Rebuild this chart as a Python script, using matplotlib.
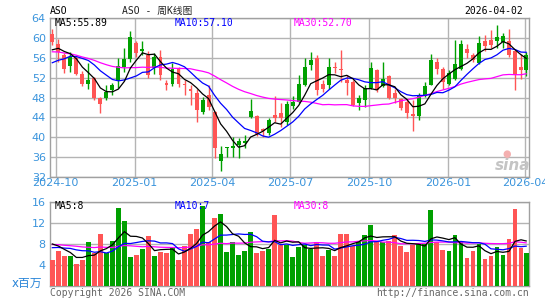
import numpy as np
import pandas as pd
import matplotlib
matplotlib.use('Agg')
import matplotlib.pyplot as plt

# weekly bars, ASO, last bar is Thursday 2026-04-02
last_day = '2026-04-02'
weeks = list(pd.date_range('2024-09-27', '2026-03-27', freq='W-FRI')) + [pd.Timestamp(last_day)]

opens = [60.8, 58.8, 56.6, 54.4, 56.0, 52.8, 50.7, 51.9, 47.9, 47.9,
         49.5, 51.5, 54.2, 55.8, 59.0, 57.3, 56.5, 54.0, 56.1, 50.9,
         50.8, 53.8, 50.8, 49.7, 49.0, 45.0, 48.5, 45.1, 35.3, 37.8,
         37.8, 38.5, 38.9, 44.1, 44.3, 41.6, 40.8, 44.5, 44.8, 43.0,
         46.3, 47.0, 50.6, 54.5, 55.9, 50.8, 50.5, 54.1, 53.8, 51.5,
         51.1, 46.8, 47.5, 49.9, 53.5, 50.3, 52.3, 49.0, 47.6, 47.0,
         44.6, 44.3, 48.3, 50.5, 55.1, 53.8, 50.7, 51.8, 53.8, 57.7,
         56.6, 54.9, 59.3, 59.5, 59.3, 59.1, 59.3, 57.3, 54.1, 53.5]
highs = [61.7, 59.8, 57.0, 57.1, 56.4, 53.3, 55.0, 52.1, 48.1, 50.6,
         50.9, 55.9, 58.0, 61.3, 59.3, 59.3, 57.3, 57.0, 57.5, 51.5,
         54.9, 54.1, 51.5, 50.5, 49.7, 48.1, 50.6, 45.3, 38.3, 38.0,
         40.0, 39.9, 40.5, 47.7, 44.5, 41.8, 43.9, 48.3, 46.8, 47.3,
         48.4, 52.5, 55.9, 57.1, 56.5, 51.5, 55.9, 55.1, 57.5, 52.5,
         51.5, 48.5, 50.5, 55.1, 53.8, 55.1, 52.5, 49.8, 47.9, 47.5,
         47.5, 48.9, 51.2, 56.8, 55.9, 54.1, 53.5, 59.5, 59.5, 58.8,
         57.0, 60.3, 60.5, 61.5, 62.5, 61.0, 61.7, 57.5, 56.8, 57.1]
lows = [58.6, 55.1, 53.0, 53.1, 52.6, 50.3, 49.8, 47.5, 44.8, 47.5,
        48.6, 50.0, 53.2, 55.1, 56.1, 56.5, 52.0, 52.8, 51.5, 49.5,
        50.3, 50.1, 48.5, 46.5, 43.1, 44.7, 45.5, 35.8, 33.3, 36.1,
        36.1, 35.9, 37.9, 43.8, 40.3, 40.1, 40.5, 43.1, 42.1, 42.5,
        45.6, 46.8, 50.3, 53.6, 48.5, 49.1, 49.7, 53.0, 51.1, 48.5,
        46.3, 45.5, 46.0, 49.7, 49.1, 50.1, 47.7, 46.8, 45.5, 43.8,
        41.3, 43.5, 48.1, 50.5, 52.8, 49.7, 50.5, 51.5, 53.5, 55.9,
        55.1, 54.8, 57.3, 57.9, 57.9, 57.9, 56.1, 49.5, 51.7, 52.3]
closes = [59.1, 57.1, 53.8, 56.2, 52.8, 50.7, 51.5, 47.9, 46.7, 49.1,
          50.5, 54.3, 55.7, 60.1, 57.0, 57.8, 52.5, 56.2, 52.5, 50.6,
          53.8, 50.8, 50.5, 49.3, 45.5, 47.5, 46.1, 37.8, 36.6, 38.0,
          38.3, 39.3, 39.3, 45.3, 40.7, 41.3, 43.5, 43.8, 43.9, 46.6,
          47.0, 50.7, 54.1, 55.5, 49.5, 49.8, 54.1, 53.9, 53.6, 50.9,
          46.5, 47.8, 49.9, 53.9, 49.5, 51.7, 47.8, 47.9, 45.9, 44.8,
          44.3, 48.3, 50.3, 55.5, 53.7, 51.1, 53.0, 54.7, 58.7, 56.9,
          55.6, 59.0, 58.3, 58.6, 60.1, 60.3, 56.6, 52.5, 53.5, 56.5]
volumes = [4.9, 6.6, 5.8, 5.8, 4.1, 4.9, 8.3, 6.3, 9.9, 6.2,
           8.5, 14.9, 12.3, 5.5, 6.0, 7.0, 9.5, 5.7, 6.4, 6.3,
           7.2, 4.9, 7.6, 9.9, 10.8, 15.2, 8.3, 12.9, 13.8, 6.4,
           8.3, 6.0, 6.6, 10.2, 6.2, 6.6, 7.0, 13.5, 7.8, 7.9,
           5.5, 7.4, 7.9, 7.1, 8.3, 5.7, 6.8, 5.8, 10.0, 10.0,
           7.7, 8.5, 9.7, 11.7, 8.6, 8.3, 8.6, 9.7, 7.6, 6.5,
           7.9, 8.0, 8.0, 14.5, 8.3, 6.8, 6.6, 9.8, 8.5, 5.3,
           6.7, 8.0, 5.1, 5.7, 7.4, 5.9, 8.9, 14.6, 7.2, 6.3]

# weeks before the window, only needed so the moving averages start where they do
prior_closes = [58.5, 59.8, 61.2, 61.0, 61.5, 60.4, 59.6, 60.8, 61.2, 60.7,
                59.4, 59.3, 58.9, 56.5, 55.2, 54.1, 53.6, 54.4, 55.3, 54.6,
                52.2, 50.8, 51.0, 53.5, 54.5, 55.6, 57.0, 58.4, 57.9]
prior_volumes = [7.5, 9.1, 8.4, 7.2, 8.8, 10.3, 7.9, 6.8, 8.1, 9.4,
                 7.6, 8.3, 7.1, 8.9, 9.6, 7.4, 8.0, 8.6, 7.3, 7.7,
                 6.2, 7.0, 6.4, 6.9, 6.5, 8.5, 9.0, 8.8, 8.8]

month_ticks = ['2024-10', '2025-01', '2025-04', '2025-07', '2025-10', '2026-01', '2026-04']
price_ticks = [32, 36, 40, 44, 48, 52, 56, 60, 64]
vol_ticks = [4, 8, 12, 16]

RED = '#ff5555'
GREEN = '#00a000'
BLUE_TXT = '#3a94dc'
GRID = '#b4b4b4'
FRAME = '#a0a0a0'
MONO = ['DejaVu Sans Mono', 'Noto Sans CJK SC']

W, H = 545, 300
fig = plt.figure(figsize=(W / 100, H / 100), dpi=100)
fig.patch.set_facecolor('white')


def box(x0, y0, x1, y1):
    return [x0 / W, 1 - y1 / H, (x1 - x0) / W, (y1 - y0) / H]


ax = fig.add_axes(box(50, 18, 529, 177))
axv = fig.add_axes(box(50, 202, 529, 286))

x = pd.to_datetime(pd.Series(weeks))
o = np.array(opens)
c = np.array(closes)
up = c >= o
cols = np.where(up, GREEN, RED)

# moving averages
ps = pd.Series(prior_closes + closes)
vs = pd.Series(prior_volumes + volumes)
n0 = len(prior_closes)
ma = {k: ps.rolling(k).mean().iloc[n0:].values for k in (5, 10, 30)}
vma = {k: vs.rolling(k).mean().iloc[n0:].values for k in (5, 10, 30)}
ma_cols = {5: 'black', 10: '#0000ff', 30: '#ff00ff'}

body_w = pd.Timedelta(days=4.6)
ax.vlines(x, lows, highs, colors=cols, lw=1.0, zorder=3)
ax.bar(x, np.maximum(np.abs(c - o), 0.2), bottom=np.minimum(o, c), width=body_w,
       color=cols, zorder=4)
for k in (30, 10, 5):
    ax.plot(x, ma[k], color=ma_cols[k], lw=0.9, zorder=5)

axv.bar(x, volumes, width=pd.Timedelta(days=5.6), color=cols, zorder=3)
for k in (30, 10, 5):
    axv.plot(x, vma[k], color=ma_cols[k], lw=0.9, zorder=5)

left = x.iloc[0] - pd.Timedelta(days=2.7)
right = x.iloc[-1] + pd.Timedelta(days=3.3)
# the last month line sits on the right border, as in the sina chart
tick_pos = [min(pd.Timestamp(m + '-01'), right) for m in month_ticks]
for a in (ax, axv):
    a.set_xlim(left, right)
    for s in a.spines.values():
        s.set_color(FRAME)
        s.set_linewidth(1.0)
    a.tick_params(length=0, colors=BLUE_TXT, labelsize=8)

ax.set_ylim(32, 64)
ax.set_yticks(price_ticks)
ax.set_yticklabels([str(t) for t in price_ticks], color=BLUE_TXT)
ax.set_xticks(tick_pos)
ax.set_xticklabels(month_ticks, color=BLUE_TXT, fontsize=8)
ax.tick_params(axis='x', pad=1)
ax.tick_params(axis='y', pad=3)
ax.grid(True, color=GRID, lw=1.0, zorder=0)
ax.set_axisbelow(True)

axv.set_ylim(0, 16)
axv.set_yticks(vol_ticks)
axv.set_yticklabels([str(t) for t in vol_ticks], color=BLUE_TXT)
axv.set_xticks([])
axv.tick_params(axis='y', pad=3)
axv.grid(True, axis='y', color=GRID, lw=1.0, zorder=0)
axv.set_axisbelow(True)


def ftext(px, py, s, **kw):
    fig.text(px / W, 1 - py / H, s, va='center', family=MONO, fontsize=7, **kw)


ftext(50, 11, 'ASO', color='black')
ftext(122, 11, 'ASO - 周K线图', color='#222222')
ftext(523, 11, last_day, color='black', ha='right')

ftext(55, 23, 'MA5:55.89', color='black')
ftext(175, 23, 'MA10:57.10', color='#0000ff')
ftext(294, 23, 'MA30:52.70', color='#ff00ff')

ftext(55, 206, 'MA5:' + str(int(vma[5][-1])), color='black')
ftext(175, 206, 'MA10:' + str(int(vma[10][-1])), color='#0000ff')
ftext(294, 206, 'MA30:' + str(int(vma[30][-1])), color='#ff00ff')

fig.text(12 / W, 1 - 283 / H, 'x百万', va='center', color='#2a85d8', fontsize=8.5,
         family=['DejaVu Sans', 'Noto Sans CJK SC'])
ftext(50, 293, 'Copyright 2026 SINA.COM', color='#666666')
ftext(529, 293, 'http://finance.sina.com.cn', color='#666666', ha='right')

# sina watermark
fig.text(513 / W, 1 - 166 / H, 'sina', ha='center', va='center', color='#c4c4c4',
         fontsize=11, fontweight='bold', style='italic', family='DejaVu Sans')
fig.text(507 / W, 1 - 154 / H, '●', ha='center', va='center', color='#f4b0b0',
         fontsize=7, family='DejaVu Sans')

fig.savefig('out.png', dpi=100, facecolor='white')
